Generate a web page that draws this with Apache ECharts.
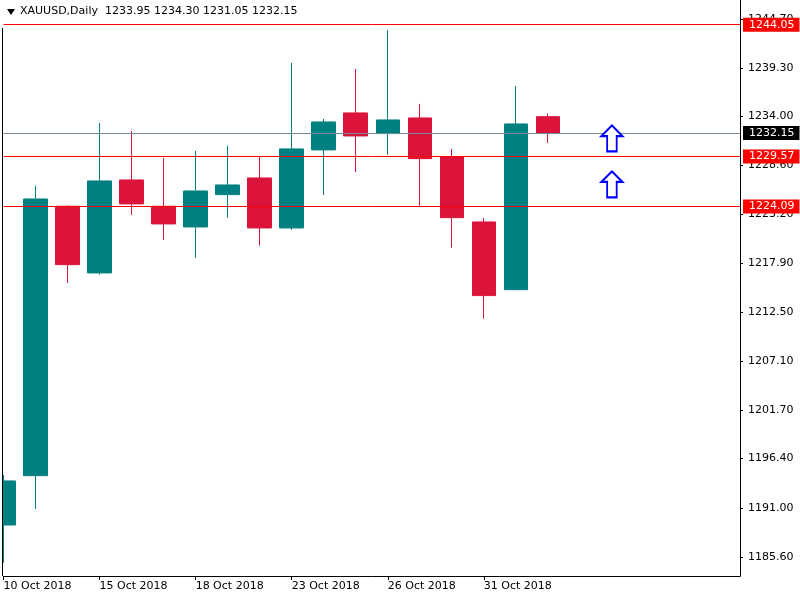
<!DOCTYPE html>
<html><head><meta charset="utf-8">
<script src="https://cdn.jsdelivr.net/npm/echarts@6/dist/echarts.min.js"></script>
<style>html,body{margin:0;padding:0;background:#fff}#c{width:800px;height:600px}</style>
</head><body><div id="c"></div>
<script>
const categories = ['10 Oct 2018','11 Oct 2018','12 Oct 2018','15 Oct 2018','16 Oct 2018','17 Oct 2018','18 Oct 2018','19 Oct 2018','22 Oct 2018','23 Oct 2018','24 Oct 2018','25 Oct 2018','26 Oct 2018','29 Oct 2018','30 Oct 2018','31 Oct 2018','1 Nov 2018','2 Nov 2018','5 Nov 2018','6 Nov 2018','7 Nov 2018','8 Nov 2018','9 Nov 2018','12 Nov 2018'];
// [open, close, low, high]
const candles = [
  [1189.11, 1193.95, 1184.97, 1194.60],
  [1194.53, 1224.91, 1190.87, 1226.34],
  [1224.11, 1217.70, 1215.69, 1224.20],
  [1216.79, 1226.89, 1216.60, 1233.26],
  [1227.00, 1224.37, 1223.16, 1232.38],
  [1224.11, 1222.17, 1220.41, 1229.42],
  [1221.84, 1225.79, 1218.44, 1230.19],
  [1225.39, 1226.45, 1222.86, 1230.74],
  [1227.22, 1221.73, 1219.79, 1229.64],
  [1221.73, 1230.41, 1221.51, 1239.85],
  [1230.30, 1233.37, 1225.35, 1233.70],
  [1234.36, 1231.83, 1227.88, 1239.19],
  [1232.09, 1233.59, 1229.75, 1243.47],
  [1233.81, 1229.34, 1224.15, 1235.35],
  [1229.56, 1222.86, 1219.57, 1230.41],
  [1222.39, 1214.30, 1211.77, 1222.83],
  [1214.95, 1233.15, 1214.90, 1237.32],
  [1233.95, 1232.15, 1231.05, 1234.30]
];
const levels = [1244.05, 1229.57, 1224.09];
const bidPrice = 1232.15;
const yTicks = [1244.70, 1239.30, 1234.00, 1228.60, 1223.20, 1217.90, 1212.50, 1207.10, 1201.70, 1196.40, 1191.00, 1185.60];
const arrowDates = ['6 Nov 2018', '6 Nov 2018'];
const arrowValues = [1231.56, 1226.52];
const titleText = 'XAUUSD,Daily  1233.95 1234.30 1231.05 1232.15';

const FONT = 'DejaVu Sans';
const chart = echarts.init(document.getElementById('c'), null, {renderer: 'canvas'});
const lastLabeled = candles.length - 3;

const markData = levels.map(v => ({
  yAxis: v,
  lineStyle: {color: '#ff0000', width: 1, type: 'solid'},
  label: {backgroundColor: '#ff0000'}
}));
markData.push({
  yAxis: bidPrice,
  lineStyle: {color: '#778899', width: 1, type: 'solid'},
  label: {backgroundColor: '#000000'}
});

chart.setOption({
  animation: false,
  backgroundColor: '#ffffff',
  title: {
    text: titleText, left: 20, top: 6, padding: 0,
    textStyle: {fontSize: 11, fontWeight: 'normal', fontFamily: FONT, color: '#000'}
  },
  grid: {left: 3.5, right: 60, top: 0, bottom: 24, containLabel: false},
  xAxis: {
    type: 'category', data: categories, boundaryGap: false,
    axisLine: {show: true, lineStyle: {color: '#000', width: 1}},
    axisTick: {show: true, length: 4, lineStyle: {color: '#000'},
      interval: (i) => i % 3 === 0 && i <= lastLabeled},
    axisLabel: {show: true, align: 'left', margin: 5, fontSize: 11, fontFamily: FONT, color: '#000',
      interval: (i) => i % 3 === 0 && i <= lastLabeled},
    splitLine: {show: false}
  },
  yAxis: {
    type: 'value', position: 'right', min: 1183.51, max: 1246.76, scale: true,
    axisLine: {show: true, lineStyle: {color: '#000', width: 1}},
    axisTick: {show: true, length: 3, lineStyle: {color: '#000'}, customValues: yTicks},
    axisLabel: {show: true, margin: 8, fontSize: 11, fontFamily: FONT, color: '#000',
      customValues: yTicks, formatter: v => v.toFixed(2)},
    splitLine: {show: false}
  },
  series: [
    {
      type: 'candlestick', data: candles, barWidth: 24, clip: true,
      itemStyle: {color: '#008080', color0: '#DC143C', borderColor: '#008080', borderColor0: '#DC143C', borderWidth: 1},
      markLine: {
        silent: true, symbol: ['none', 'none'], animation: false,
        label: {show: true, position: 'end', distance: 3, color: '#fff', padding: [1, 5, 1, 6],
          fontSize: 11, fontFamily: FONT, lineHeight: 12, formatter: p => p.value.toFixed(2)},
        data: markData
      }
    },
    {
      type: 'scatter', z: 5,
      data: arrowDates.map((d, i) => [d, arrowValues[i]]),
      symbol: 'path://M11,0 L22,11 L16,11 L16,27 L6,27 L6,11 L0,11 Z',
      symbolSize: [21, 26],
      itemStyle: {color: '#ffffff', borderColor: '#0000ff', borderWidth: 2, opacity: 1}
    }
  ],
  graphic: [
    {type: 'rect', z: 100, shape: {x: 0, y: 0, width: 2, height: 600}, style: {fill: '#fff'}},
    {type: 'line', z: 101, shape: {x1: 2.5, y1: 28, x2: 2.5, y2: 576}, style: {stroke: '#000', lineWidth: 1}},
    {type: 'polygon', z: 101, shape: {points: [[7, 9], [15, 9], [11, 15]]}, style: {fill: '#000'}}
  ]
});
</script></body></html>
